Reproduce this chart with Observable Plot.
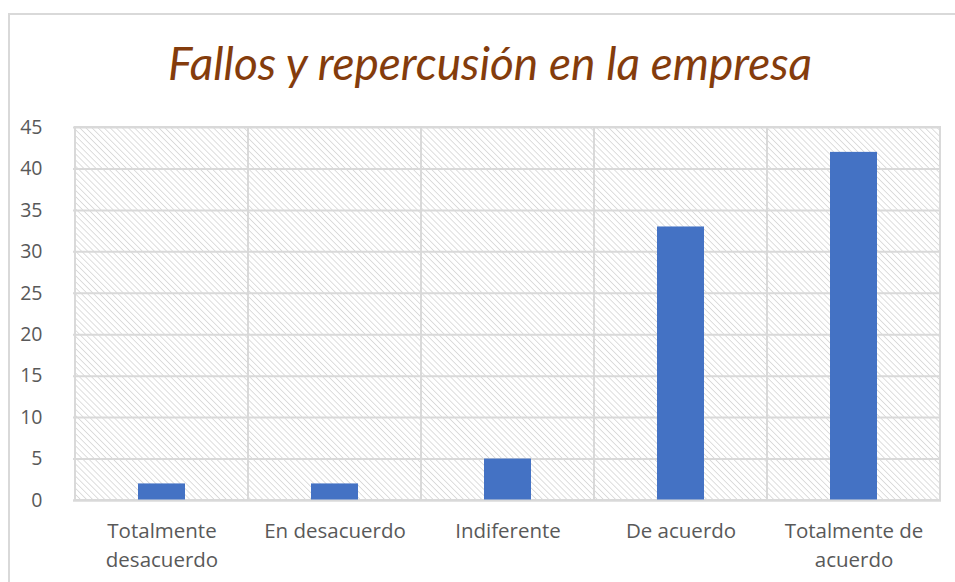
<!DOCTYPE html>
<html><head><meta charset="utf-8">
<script src="https://cdn.jsdelivr.net/npm/d3@7"></script>
<script src="https://cdn.jsdelivr.net/npm/@observablehq/plot@0.6"></script>
<style>
html,body{margin:0;padding:0;background:#fff;overflow:hidden;}
#wrap{position:relative;width:955px;height:582px;overflow:hidden;}
#border{position:absolute;left:8px;top:13px;width:1000px;height:1000px;border:2px solid #D9D9D9;box-sizing:border-box;}
#title{position:absolute;left:0;width:980px;top:33px;text-align:center;font-family:Lato,"Open Sans",sans-serif;font-style:italic;font-size:46px;line-height:60px;color:#843C0C;white-space:nowrap;}
#chart{position:absolute;left:0;top:0;}
</style>
</head><body>
<div id="wrap"><div id="border"></div><div id="chart"></div><div id="title">Fallos y repercusión en la empresa</div></div>
<script>
const categories = ["Totalmente\ndesacuerdo", "En desacuerdo", "Indiferente", "De acuerdo", "Totalmente de\nacuerdo"];
const values = [2, 2, 5, 33, 42];
const yTicks = [0, 5, 10, 15, 20, 25, 30, 35, 40, 45];
const data = categories.map((c, i) => ({cat: c, value: values[i]}));

const chart = Plot.plot({
  width: 955, height: 582,
  marginLeft: 73, marginRight: 14, marginTop: 127, marginBottom: 82,
  x: {domain: categories, padding: 0, label: null},
  y: {domain: [0, 45], label: null},
  style: {fontFamily: "'Open Sans', sans-serif", fontSize: "20px", color: "#595959", background: "transparent"},
  marks: [
    Plot.cell(categories, {x: d => d, fill: "url(#hatch)", stroke: "#D9D9D9", strokeWidth: 2}),
    Plot.ruleY(yTicks, {stroke: "#D9D9D9", strokeWidth: 2}),
    Plot.barY(data, {x: "cat", y: "value", fill: "#4472C4", insetLeft: 63, insetRight: 63}),
    Plot.ruleY([0], {stroke: "#D9D9D9", strokeWidth: 2}),
    Plot.axisY({ticks: yTicks, tickSize: 0, tickPadding: 31, fontSize: 19.5, fill: "#595959"}),
    Plot.axisX({tickSize: 0, tickPadding: 17, fontSize: 20.5, lineHeight: 1.4, fill: "#595959"})
  ]
});
d3.select(chart).insert("defs", ":first-child").html(
  '<pattern id="hatch" width="4.3" height="4.3" patternUnits="userSpaceOnUse" patternTransform="rotate(-45)">' +
  '<rect width="4.3" height="4.3" fill="#ffffff"/>' +
  '<line x1="0" y1="0" x2="0" y2="4.3" stroke="#D6D6D6" stroke-width="1.6"/></pattern>');
document.getElementById("chart").appendChild(chart);
</script>
</body></html>
